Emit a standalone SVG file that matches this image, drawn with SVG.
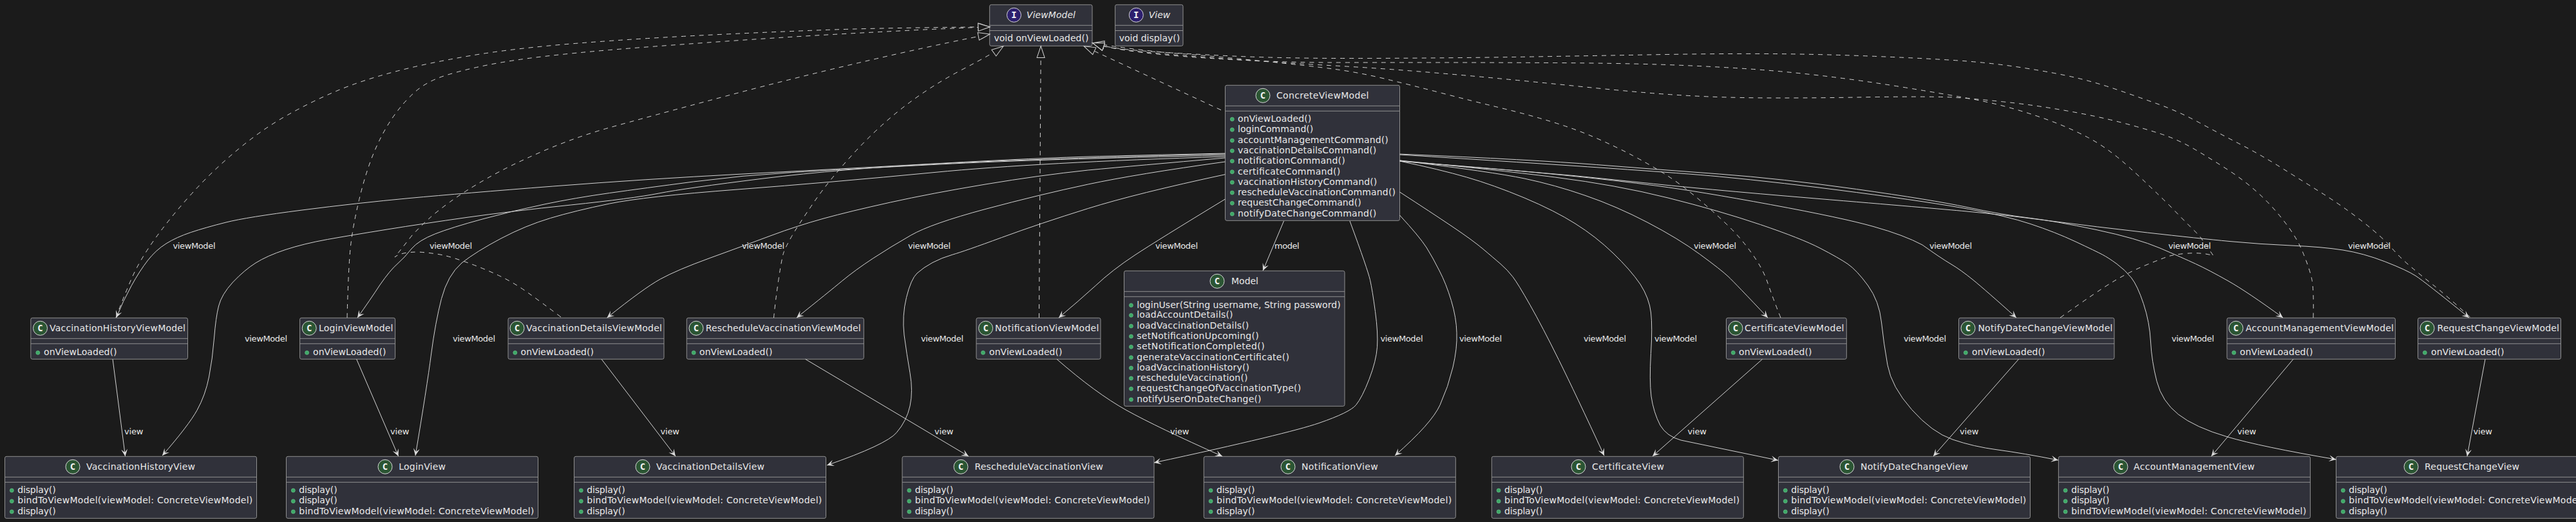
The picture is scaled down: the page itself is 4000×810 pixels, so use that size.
<svg xmlns="http://www.w3.org/2000/svg" width="4000" height="810" viewBox="0 0 4000 810">
<style>
text{font-family:"DejaVu Sans",sans-serif;fill:#e8e8e8;font-size:14px}
.b{fill:#30313a;stroke:#909090;stroke-width:1}
.s{stroke:#909090;stroke-width:1}
.cc{fill:#2b5533;stroke:#d8d8d8;stroke-width:1}
.ci{fill:#2d1f6e;stroke:#d8d8d8;stroke-width:1}
.g{font-weight:bold;text-anchor:middle;fill:#f2f2f2;font-family:"DejaVu Sans Mono","DejaVu Sans",monospace}
.d{fill:#3fa968;stroke:#6fc990;stroke-width:.6}
.i{font-style:italic}
.l{font-size:13px}
.c path{fill:none;stroke:#d4d4d4;stroke-width:1}
.c .solid{marker-end:url(#open)}
.c .dash{stroke-dasharray:7 7;marker-end:url(#tri)}
</style>
<defs>
<marker id="open" markerUnits="userSpaceOnUse" markerWidth="20" markerHeight="20" refX="0" refY="0" orient="auto" overflow="visible"><path d="M0,0 L-11,-5 L-6,0 L-11,5 Z" fill="#dcdcdc"/></marker>
<marker id="tri" markerUnits="userSpaceOnUse" markerWidth="20" markerHeight="20" refX="0" refY="0" orient="auto" overflow="visible"><path d="M0,0 L-18,-6 L-18,6 Z" fill="#1b1b1b" stroke="#d4d4d4"/></marker>
</defs>
<rect width="4000" height="810" fill="#1b1b1b"/>

<g id="nodes">
<g id="ViewModel"><rect class="b" x="1536.7" y="7.3" width="159.3" height="64" rx="2.5"/><line class="s" x1="1536.7" x2="1696" y1="39.3" y2="39.3"/><line class="s" x1="1536.7" x2="1696" y1="47.5" y2="47.5"/><circle class="ci" cx="1574.5" cy="23.3" r="11"/><text class="g" x="1574.5" y="28.3">I</text><text class="i" x="1594" y="28" textLength="76">ViewModel</text><text x="1543.4" y="63.5" textLength="147">void onViewLoaded()</text></g>
<g id="View"><rect class="b" x="1731.6" y="7.3" width="105.4" height="64" rx="2.5"/><line class="s" x1="1731.6" x2="1837" y1="39.3" y2="39.3"/><line class="s" x1="1731.6" x2="1837" y1="47.5" y2="47.5"/><circle class="ci" cx="1764.3" cy="23.3" r="11"/><text class="g" x="1764.3" y="28.3">I</text><text class="i" x="1783.7" y="28" textLength="33.6">View</text><text x="1737.8" y="63.5" textLength="94.4">void display()</text></g>

<g id="ConcreteViewModel"><rect class="b" x="1902.5" y="132.3" width="271" height="210" rx="2.5"/><line class="s" x1="1902.5" x2="2173.5" y1="164.3" y2="164.3"/><line class="s" x1="1902.5" x2="2173.5" y1="172.3" y2="172.3"/><circle class="cc" cx="1961" cy="148.3" r="11"/><text class="g" x="1961" y="153.3">C</text><text x="1982" y="153" textLength="143.5">ConcreteViewModel</text>
<circle class="d" cx="1913.3" cy="185" r="3"/><text x="1922" y="189" textLength="114.3">onViewLoaded()</text>
<circle class="d" cx="1913.3" cy="201.3" r="3"/><text x="1922" y="205.3" textLength="117.3">loginCommand()</text>
<circle class="d" cx="1913.3" cy="218" r="3"/><text x="1922" y="222" textLength="233.7">accountManagementCommand()</text>
<circle class="d" cx="1913.3" cy="234" r="3"/><text x="1922" y="238" textLength="215.3">vaccinationDetailsCommand()</text>
<circle class="d" cx="1913.3" cy="250" r="3"/><text x="1922" y="254" textLength="166.8">notificationCommand()</text>
<circle class="d" cx="1913.3" cy="266.7" r="3"/><text x="1922" y="270.7" textLength="159.2">certificateCommand()</text>
<circle class="d" cx="1913.3" cy="283" r="3"/><text x="1922" y="287" textLength="216.3">vaccinationHistoryCommand()</text>
<circle class="d" cx="1913.3" cy="299" r="3"/><text x="1922" y="303" textLength="245">rescheduleVaccinationCommand()</text>
<circle class="d" cx="1913.3" cy="315.3" r="3"/><text x="1922" y="319.3" textLength="191.8">requestChangeCommand()</text>
<circle class="d" cx="1913.3" cy="332" r="3"/><text x="1922" y="336" textLength="215.3">notifyDateChangeCommand()</text></g>

<g id="Model"><rect class="b" x="1745.5" y="420.3" width="342.5" height="210" rx="2.5"/><line class="s" x1="1745.5" x2="2088" y1="452.3" y2="452.3"/><line class="s" x1="1745.5" x2="2088" y1="460.3" y2="460.3"/><circle class="cc" cx="1890" cy="436.3" r="11"/><text class="g" x="1890" y="441.3">C</text><text x="1912" y="441" textLength="42">Model</text>
<circle class="d" cx="1756.4" cy="473.7" r="3"/><text x="1765.3" y="477.7" textLength="316.3">loginUser(String username, String password)</text>
<circle class="d" cx="1756.4" cy="489.3" r="3"/><text x="1765.3" y="493.3" textLength="149.2">loadAccountDetails()</text>
<circle class="d" cx="1756.4" cy="506" r="3"/><text x="1765.3" y="510" textLength="174">loadVaccinationDetails()</text>
<circle class="d" cx="1756.4" cy="522" r="3"/><text x="1765.3" y="526" textLength="189.4">setNotificationUpcoming()</text>
<circle class="d" cx="1756.4" cy="538.3" r="3"/><text x="1765.3" y="542.3" textLength="198.3">setNotificationCompleted()</text>
<circle class="d" cx="1756.4" cy="554.7" r="3"/><text x="1765.3" y="558.7" textLength="236.7">generateVaccinationCertificate()</text>
<circle class="d" cx="1756.4" cy="571" r="3"/><text x="1765.3" y="575" textLength="174.7">loadVaccinationHistory()</text>
<circle class="d" cx="1756.4" cy="587" r="3"/><text x="1765.3" y="591" textLength="172.2">rescheduleVaccination()</text>
<circle class="d" cx="1756.4" cy="603.3" r="3"/><text x="1765.3" y="607.3" textLength="255">requestChangeOfVaccinationType()</text>
<circle class="d" cx="1756.4" cy="620" r="3"/><text x="1765.3" y="624" textLength="193.2">notifyUserOnDateChange()</text></g>

<g id="VaccinationHistoryViewModel"><rect class="b" x="47.8" y="493.3" width="243.7" height="64" rx="2.5"/><line class="s" x1="47.8" x2="291.5" y1="525.3" y2="525.3"/><line class="s" x1="47.8" x2="291.5" y1="533.3" y2="533.3"/><circle class="cc" cx="62.5" cy="509.3" r="11"/><text class="g" x="62.5" y="514.3">C</text><text x="77" y="514" textLength="211">VaccinationHistoryViewModel</text><circle class="d" cx="58.8" cy="547.3" r="3"/><text x="68" y="551" textLength="113.5">onViewLoaded()</text></g>
<g id="LoginViewModel"><rect class="b" x="465.6" y="493.3" width="148" height="64" rx="2.5"/><line class="s" x1="465.6" x2="613.6" y1="525.3" y2="525.3"/><line class="s" x1="465.6" x2="613.6" y1="533.3" y2="533.3"/><circle class="cc" cx="480.2" cy="509.3" r="11"/><text class="g" x="480.2" y="514.3">C</text><text x="495" y="514" textLength="115.4">LoginViewModel</text><circle class="d" cx="476.6" cy="547.3" r="3"/><text x="486" y="551" textLength="113.5">onViewLoaded()</text></g>
<g id="VaccinationDetailsViewModel"><rect class="b" x="789" y="493.3" width="242" height="64" rx="2.5"/><line class="s" x1="789" x2="1031" y1="525.3" y2="525.3"/><line class="s" x1="789" x2="1031" y1="533.3" y2="533.3"/><circle class="cc" cx="803" cy="509.3" r="11"/><text class="g" x="803" y="514.3">C</text><text x="817" y="514" textLength="211">VaccinationDetailsViewModel</text><circle class="d" cx="799.8" cy="547.3" r="3"/><text x="808.5" y="551" textLength="113.5">onViewLoaded()</text></g>
<g id="RescheduleVaccinationViewModel"><rect class="b" x="1066.3" y="493.3" width="275" height="64" rx="2.5"/><line class="s" x1="1066.3" x2="1341.3" y1="525.3" y2="525.3"/><line class="s" x1="1066.3" x2="1341.3" y1="533.3" y2="533.3"/><circle class="cc" cx="1081" cy="509.3" r="11"/><text class="g" x="1081" y="514.3">C</text><text x="1095.7" y="514" textLength="241">RescheduleVaccinationViewModel</text><circle class="d" cx="1077.2" cy="547.3" r="3"/><text x="1086" y="551" textLength="113.5">onViewLoaded()</text></g>
<g id="NotificationViewModel"><rect class="b" x="1516" y="493.3" width="193" height="64" rx="2.5"/><line class="s" x1="1516" x2="1709" y1="525.3" y2="525.3"/><line class="s" x1="1516" x2="1709" y1="533.3" y2="533.3"/><circle class="cc" cx="1530.6" cy="509.3" r="11"/><text class="g" x="1530.6" y="514.3">C</text><text x="1545" y="514" textLength="161.4">NotificationViewModel</text><circle class="d" cx="1526.5" cy="547.3" r="3"/><text x="1536" y="551" textLength="113.5">onViewLoaded()</text></g>
<g id="CertificateViewModel"><rect class="b" x="2680.5" y="493.3" width="186.8" height="64" rx="2.5"/><line class="s" x1="2680.5" x2="2867.3" y1="525.3" y2="525.3"/><line class="s" x1="2680.5" x2="2867.3" y1="533.3" y2="533.3"/><circle class="cc" cx="2695" cy="509.3" r="11"/><text class="g" x="2695" y="514.3">C</text><text x="2709" y="514" textLength="154.5">CertificateViewModel</text><circle class="d" cx="2691.3" cy="547.3" r="3"/><text x="2700" y="551" textLength="113.5">onViewLoaded()</text></g>
<g id="NotifyDateChangeViewModel"><rect class="b" x="3041.5" y="493.3" width="241.5" height="64" rx="2.5"/><line class="s" x1="3041.5" x2="3283" y1="525.3" y2="525.3"/><line class="s" x1="3041.5" x2="3283" y1="533.3" y2="533.3"/><circle class="cc" cx="3056" cy="509.3" r="11"/><text class="g" x="3056" y="514.3">C</text><text x="3071.4" y="514" textLength="209">NotifyDateChangeViewModel</text><circle class="d" cx="3052.3" cy="547.3" r="3"/><text x="3062" y="551" textLength="113.5">onViewLoaded()</text></g>
<g id="AccountManagementViewModel"><rect class="b" x="3458" y="493.3" width="261.4" height="64" rx="2.5"/><line class="s" x1="3458" x2="3719.4" y1="525.3" y2="525.3"/><line class="s" x1="3458" x2="3719.4" y1="533.3" y2="533.3"/><circle class="cc" cx="3472" cy="509.3" r="11"/><text class="g" x="3472" y="514.3">C</text><text x="3487" y="514" textLength="230">AccountManagementViewModel</text><circle class="d" cx="3468.8" cy="547.3" r="3"/><text x="3478" y="551" textLength="113.5">onViewLoaded()</text></g>
<g id="RequestChangeViewModel"><rect class="b" x="3754.5" y="493.3" width="222" height="64" rx="2.5"/><line class="s" x1="3754.5" x2="3976.5" y1="525.3" y2="525.3"/><line class="s" x1="3754.5" x2="3976.5" y1="533.3" y2="533.3"/><circle class="cc" cx="3769" cy="509.3" r="11"/><text class="g" x="3769" y="514.3">C</text><text x="3784.4" y="514" textLength="189.5">RequestChangeViewModel</text><circle class="d" cx="3765.3" cy="547.3" r="3"/><text x="3775" y="551" textLength="113.5">onViewLoaded()</text></g>

<g id="VaccinationHistoryView"><rect class="b" x="7.5" y="708.3" width="391" height="96" rx="2.5"/><line class="s" x1="7.5" x2="398.5" y1="740.3" y2="740.3"/><line class="s" x1="7.5" x2="398.5" y1="748.3" y2="748.3"/><circle class="cc" cx="113" cy="724.3" r="11"/><text class="g" x="113" y="729.3">C</text><text x="134" y="729" textLength="169">VaccinationHistoryView</text>
<circle class="d" cx="18.3" cy="761" r="3"/><text x="27.3" y="765" textLength="59.3">display()</text><circle class="d" cx="18.3" cy="777.7" r="3"/><text x="27.3" y="781" textLength="365">bindToViewModel(viewModel: ConcreteViewModel)</text><circle class="d" cx="18.3" cy="794" r="3"/><text x="27.3" y="798" textLength="59.3">display()</text></g>
<g id="LoginView"><rect class="b" x="444.5" y="708.3" width="391" height="96" rx="2.5"/><line class="s" x1="444.5" x2="835.5" y1="740.3" y2="740.3"/><line class="s" x1="444.5" x2="835.5" y1="748.3" y2="748.3"/><circle class="cc" cx="598" cy="724.3" r="11"/><text class="g" x="598" y="729.3">C</text><text x="619.3" y="729" textLength="72.7">LoginView</text>
<circle class="d" cx="455.3" cy="761" r="3"/><text x="464.3" y="765" textLength="59.3">display()</text><circle class="d" cx="455.3" cy="777.7" r="3"/><text x="464.3" y="781" textLength="59.3">display()</text><circle class="d" cx="455.3" cy="794" r="3"/><text x="464.3" y="798" textLength="365">bindToViewModel(viewModel: ConcreteViewModel)</text></g>
<g id="VaccinationDetailsView"><rect class="b" x="891.5" y="708.3" width="391" height="96" rx="2.5"/><line class="s" x1="891.5" x2="1282.5" y1="740.3" y2="740.3"/><line class="s" x1="891.5" x2="1282.5" y1="748.3" y2="748.3"/><circle class="cc" cx="998" cy="724.3" r="11"/><text class="g" x="998" y="729.3">C</text><text x="1019" y="729" textLength="168">VaccinationDetailsView</text>
<circle class="d" cx="902.3" cy="761" r="3"/><text x="911.3" y="765" textLength="59.3">display()</text><circle class="d" cx="902.3" cy="777.7" r="3"/><text x="911.3" y="781" textLength="365">bindToViewModel(viewModel: ConcreteViewModel)</text><circle class="d" cx="902.3" cy="794" r="3"/><text x="911.3" y="798" textLength="59.3">display()</text></g>
<g id="RescheduleVaccinationView"><rect class="b" x="1401" y="708.3" width="391" height="96" rx="2.5"/><line class="s" x1="1401" x2="1792" y1="740.3" y2="740.3"/><line class="s" x1="1401" x2="1792" y1="748.3" y2="748.3"/><circle class="cc" cx="1492" cy="724.3" r="11"/><text class="g" x="1492" y="729.3">C</text><text x="1513.4" y="729" textLength="199.6">RescheduleVaccinationView</text>
<circle class="d" cx="1411.8" cy="761" r="3"/><text x="1420.8" y="765" textLength="59.3">display()</text><circle class="d" cx="1411.8" cy="777.7" r="3"/><text x="1420.8" y="781" textLength="365">bindToViewModel(viewModel: ConcreteViewModel)</text><circle class="d" cx="1411.8" cy="794" r="3"/><text x="1420.8" y="798" textLength="59.3">display()</text></g>
<g id="NotificationView"><rect class="b" x="1869.3" y="708.3" width="391" height="96" rx="2.5"/><line class="s" x1="1869.3" x2="2260.3" y1="740.3" y2="740.3"/><line class="s" x1="1869.3" x2="2260.3" y1="748.3" y2="748.3"/><circle class="cc" cx="2000" cy="724.3" r="11"/><text class="g" x="2000" y="729.3">C</text><text x="2021" y="729" textLength="118.7">NotificationView</text>
<circle class="d" cx="1880.1" cy="761" r="3"/><text x="1889.1" y="765" textLength="59.3">display()</text><circle class="d" cx="1880.1" cy="777.7" r="3"/><text x="1889.1" y="781" textLength="365">bindToViewModel(viewModel: ConcreteViewModel)</text><circle class="d" cx="1880.1" cy="794" r="3"/><text x="1889.1" y="798" textLength="59.3">display()</text></g>
<g id="CertificateView"><rect class="b" x="2316.3" y="708.3" width="391" height="96" rx="2.5"/><line class="s" x1="2316.3" x2="2707.3" y1="740.3" y2="740.3"/><line class="s" x1="2316.3" x2="2707.3" y1="748.3" y2="748.3"/><circle class="cc" cx="2451" cy="724.3" r="11"/><text class="g" x="2451" y="729.3">C</text><text x="2472" y="729" textLength="112">CertificateView</text>
<circle class="d" cx="2327.1" cy="761" r="3"/><text x="2336.1" y="765" textLength="59.3">display()</text><circle class="d" cx="2327.1" cy="777.7" r="3"/><text x="2336.1" y="781" textLength="365">bindToViewModel(viewModel: ConcreteViewModel)</text><circle class="d" cx="2327.1" cy="794" r="3"/><text x="2336.1" y="798" textLength="59.3">display()</text></g>
<g id="NotifyDateChangeView"><rect class="b" x="2761.5" y="708.3" width="391" height="96" rx="2.5"/><line class="s" x1="2761.5" x2="3152.5" y1="740.3" y2="740.3"/><line class="s" x1="2761.5" x2="3152.5" y1="748.3" y2="748.3"/><circle class="cc" cx="2868" cy="724.3" r="11"/><text class="g" x="2868" y="729.3">C</text><text x="2889" y="729" textLength="167">NotifyDateChangeView</text>
<circle class="d" cx="2772.3" cy="761" r="3"/><text x="2781.3" y="765" textLength="59.3">display()</text><circle class="d" cx="2772.3" cy="777.7" r="3"/><text x="2781.3" y="781" textLength="365">bindToViewModel(viewModel: ConcreteViewModel)</text><circle class="d" cx="2772.3" cy="794" r="3"/><text x="2781.3" y="798" textLength="59.3">display()</text></g>
<g id="AccountManagementView"><rect class="b" x="3196.4" y="708.3" width="391" height="96" rx="2.5"/><line class="s" x1="3196.4" x2="3587.4" y1="740.3" y2="740.3"/><line class="s" x1="3196.4" x2="3587.4" y1="748.3" y2="748.3"/><circle class="cc" cx="3293" cy="724.3" r="11"/><text class="g" x="3293" y="729.3">C</text><text x="3313" y="729" textLength="188">AccountManagementView</text>
<circle class="d" cx="3207.2" cy="761" r="3"/><text x="3216.2" y="765" textLength="59.3">display()</text><circle class="d" cx="3207.2" cy="777.7" r="3"/><text x="3216.2" y="781" textLength="59.3">display()</text><circle class="d" cx="3207.2" cy="794" r="3"/><text x="3216.2" y="798" textLength="365">bindToViewModel(viewModel: ConcreteViewModel)</text></g>
<g id="RequestChangeView"><rect class="b" x="3627.5" y="708.3" width="391" height="96" rx="2.5"/><line class="s" x1="3627.5" x2="4018.5" y1="740.3" y2="740.3"/><line class="s" x1="3627.5" x2="4018.5" y1="748.3" y2="748.3"/><circle class="cc" cx="3744" cy="724.3" r="11"/><text class="g" x="3744" y="729.3">C</text><text x="3765" y="729" textLength="147">RequestChangeView</text>
<circle class="d" cx="3638.3" cy="761" r="3"/><text x="3647.3" y="765" textLength="59.3">display()</text><circle class="d" cx="3638.3" cy="777.7" r="3"/><text x="3647.3" y="781" textLength="365">bindToViewModel(viewModel: ConcreteViewModel)</text><circle class="d" cx="3638.3" cy="794" r="3"/><text x="3647.3" y="798" textLength="59.3">display()</text></g>
</g>

<g id="connectors" class="c">
<path class="dash" d="M180,493 Q191,463 204,433 Q217,403 242.5,368 Q268,333 300,298 Q332,263 370,231.5 Q408,200 446.5,178.5 Q485,157 523,141 Q561,125 612,111.5 Q663,98 730,86.5 Q797,75 898.5,67 Q1000,59 1127.5,53 Q1255,47 1327,45 Q1400,43 1537,41.7"/>
<path class="dash" d="M539,493 Q541,413 544.5,381.5 Q548,350 558,308.5 Q568,267 580.5,237 Q593,207 609,183.5 Q625,160 644,143 Q663,126 692,117 Q721,108 759,100.5 Q797,93 845,87.5 Q893,82 946.5,77.5 Q1000,73 1127.5,64 Q1255,55 1396,48 Q1450,45 1537,41.7"/>
<path class="dash" d="M871,492 Q842,470 819.5,454 Q797,438 774.5,427.5 Q752,417 728.5,408.5 Q705,400 690.5,396.5 Q676,393 650,391 Q622,391 613,399 Q626,383 640,365 Q657,347 667,338.5 Q676,330 698.5,313.5 Q721,297 756,277 Q791,257 842,235 Q893,213 946.5,198 Q1000,183 1127.5,149 Q1255,115 1396,83 Q1480,64 1537,53"/>
<path class="dash" d="M1201.5,493 Q1204,467 1209,433.5 Q1214,400 1217,391.5 Q1220,383 1229.5,366.5 Q1239,350 1263,315 Q1287,280 1325,238.5 Q1363,197 1404.5,165 Q1446,133 1494,108 Q1542,83 1558,71.7"/>
<path class="dash" d="M1613.5,493 L1616.3,71.5"/>
<path class="dash" d="M1896,170.7 L1683,71.7"/>
<path class="dash" d="M2765,493 Q2752,460 2744.5,438 Q2737,416 2719,391.5 Q2701.5,367 2679,346 Q2657,325 2631.5,304 Q2606,283 2583.5,269 Q2561,255 2535.5,241.5 Q2510,228 2478,214 Q2446,200 2408,188.5 Q2370,177 2328.5,167 Q2287,157 2239,144.5 Q2191,132 2149.5,122 Q2108,112 2070,107 Q2032,102 1962.5,95 Q1893,88 1829,83 Q1765,78 1696.5,66.7"/>
<path class="dash" d="M3199,493 Q3255,453 3280.5,437.5 Q3306,422 3333,411 Q3360,400 3368,397.5 Q3376,395 3392,393.5 Q3420,391 3437,397 Q3427,382 3414.5,365 Q3392,343 3370,320 Q3319,270 3293.5,248.5 Q3268,227 3242.5,213.5 Q3217,200 3188,189 Q3159,178 3127.5,169 Q3096,160 3064,154 Q3032,148 2962.5,136.5 Q2893,125 2829,117.5 Q2765,110 2701.5,106 Q2638,102 2574,100 Q2510,98 2414.5,97.5 Q2319,97 2223.5,97 Q2128,97 2064,97 Q2000,97 1914.5,92.5 Q1829,88 1774.5,81.5 Q1720,75 1696.5,66.7"/>
<path class="dash" d="M3592,493 Q3593,450 3590,434.5 Q3587,419 3577,394.5 Q3567.6,370 3548,345 Q3529,320 3507,300 Q3485,280 3459.5,263.5 Q3434,247 3408.5,232 Q3383,217 3357.5,208.5 Q3332,200 3293.5,190 Q3255,180 3207,171.5 Q3159,163 3111.5,158 Q3064,153 3032,151 Q3000,149.5 2914.5,150.5 Q2829,152 2765,152 Q2701.5,152 2654,150 Q2606,148 2558,144 Q2510,140 2446.5,133.5 Q2383,127 2319,121 Q2255,115 2191.5,110 Q2128,105 2064,101.5 Q2000,98 1914.5,92 Q1829,86 1774.5,80.5 Q1720,75 1696.5,66.7"/>
<path class="dash" d="M3835.5,492 Q3797,457 3778,442 Q3759,427 3743,413.5 Q3727,400 3714,385 Q3701.5,370 3670,345 Q3638,320 3606,300 Q3574,280 3542,260 Q3510,240 3478,223.5 Q3446,207 3414.5,190 Q3383,173 3351,161.5 Q3319,150 3287,139 Q3255,128 3223,120.5 Q3191,113 3143.5,105.5 Q3096,98 3048,94.5 Q3000,91 2914.5,87.5 Q2829,84 2749.5,83.5 Q2670,83 2558,85 Q2446,87 2350.5,88.5 Q2255,90 2127.5,90.5 Q2000,91 1914.5,87 Q1829,83 1775,79 Q1720.7,75 1696.5,66.7"/>

<path class="solid" d="M1902.4,238 Q1803.6,240 1707.8,242.5 Q1612,245 1459,253.5 Q1306,262 1153,270 Q1000,278 858.8,289 Q717.5,300 636,307.5 Q555,315 469,326 Q383,337 351,345 Q319,353 296.5,360.5 Q274,368 258,378 Q242,388 229.5,404 Q217,420 204,443.5 Q191,467 180.5,493"/>
<path class="solid" d="M1902.4,239 Q1612,246 1459,254 Q1306,262 1185,277 Q1064,292 1023,300 Q982,308 886.5,318 Q791,328 724,337.5 Q657,347 601,356 Q545,365 508.5,371.5 Q472,378 443,387.5 Q414.5,397 397,408 Q379.5,419 361.5,438 Q344,457 339.5,475 Q335,493 332.5,525 Q330,557 324.5,585 Q319,613 306,636.5 Q293,660 252,707"/>
<path class="solid" d="M1902.4,241 Q1612,247 1459,255 Q1306,263 1229.5,267.5 Q1153,272 1076.5,282 Q1000,292 946.5,299.5 Q893,307 845,317 Q797,327 749,340 Q701,353 675.5,363 Q650,373 639,386 Q628,400 617,409.5 Q606,419 590,442 Q575,465 555,493"/>
<path class="solid" d="M1902.4,243 Q1612,252 1451,267.5 Q1290,283 1145,294 Q1000,305 946.5,316 Q893,327 854.5,338.5 Q816,350 778,370 Q740,390 717,408 Q695,427 685.5,463.5 Q676,500 669.5,550 Q663,600 645,707"/>
<path class="solid" d="M1902.4,245 Q1765,257 1689.5,264 Q1614,272 1530,286 Q1446,300 1382.5,314 Q1319,328 1279,339 Q1239,350 1196,366 Q1153,382 1102,400.5 Q1051,419 1025.5,433 Q1000,447 942.6,493"/>
<path class="solid" d="M1902.4,251 Q1765,270 1689.5,286 Q1614,302 1530,324.5 Q1446,347 1414.5,365 Q1383,383 1355.5,401 Q1328,419 1307.5,436 Q1287,453 1237,493"/>
<path class="solid" d="M1902.4,270.7 Q1765,300 1689.5,323.5 Q1614,347 1555.5,368.5 Q1497,390 1479.5,395 Q1462,400 1448,407.5 Q1434,415 1424,424 Q1414.5,433 1407.5,461.5 Q1400.5,490 1404,520 Q1408,550 1413,578.5 Q1418,607 1413,630 Q1408,653 1392,671.5 Q1376,690 1284,722"/>
<path class="solid" d="M1902.4,309 Q1797,373 1762,396 Q1727,419 1701.5,443 Q1675,467 1644,493"/>
<path class="solid" d="M1993.5,343 L1961,420"/>
<path class="solid" d="M2096,343 Q2124,419 2127.5,434.5 Q2131,450 2135.5,483.5 Q2140,517 2138.5,538.5 Q2137,560 2126,588.5 Q2115,617 2105.5,628.5 Q2096,640 2048,656.5 Q2000,673 1792,718"/>
<path class="solid" d="M2173.5,334 Q2204,367 2215,384 Q2225,400 2235,420 Q2245.5,440 2253.5,466.5 Q2261.5,493 2262,516.5 Q2263,540 2256,570 Q2249,600 2236,628.5 Q2223,657 2166,707"/>
<path class="solid" d="M2173.5,298 Q2223,330 2255,351.5 Q2287,373 2303,386.5 Q2319,400 2330,409.5 Q2341,419 2349,429.5 Q2357,440 2376,473.5 Q2395,507 2420.5,558.5 Q2446,610 2491,707"/>
<path class="solid" d="M2173.5,250 Q2236,263 2277.5,275 Q2319,287 2367,307 Q2414.5,327 2446,347 Q2478,367 2505,393 Q2532,419 2547,441 Q2561,463 2563.5,485 Q2566,507 2563.5,548.5 Q2561,590 2564,615 Q2567.6,640 2578,660 Q2588,677 2610,683 L2761,714.3"/>
<path class="solid" d="M2173.5,249 Q2319,267 2367,277 Q2414.5,287 2462,303.5 Q2510,320 2558,345 Q2606,370 2639.5,394.5 Q2673,419 2684,429.5 Q2695,440 2745,493"/>
<path class="solid" d="M2173.5,249 Q2319,263 2414.5,275 Q2510,287 2590,307 Q2670,327 2733.5,348.5 Q2797,370 2826,385 Q2855,400 2869,409.5 Q2883,419 2900.5,443 Q2918,467 2921.5,500 Q2925,533 2931,566.5 Q2937,600 2968.5,635.5 Q3000,671 3032,682 Q3064,693 3102,698 Q3140,703 3196,714"/>
<path class="solid" d="M2173.5,250 Q2340,263 2425,271.5 Q2510,280 2574,288.5 Q2638,297 2749.5,317.5 Q2861,338 2909,351.5 Q2957,365 2985,380 Q3013,400 3029,409.5 Q3045,419 3064,434.5 Q3083,450 3131,493"/>
<path class="solid" d="M2173.5,239 Q2383,248 2478.5,255.5 Q2574,263 2669.5,270 Q2765,277 2882.5,293.5 Q3000,310 3054,321.5 Q3108,333 3149.5,338 Q3191,343 3255,356.5 Q3319,370 3354,385 Q3389,400 3409.5,409.5 Q3430,419 3460,436 Q3490,453 3545,493"/>
<path class="solid" d="M2173.5,240 Q2574,265 2669.5,274 Q2765,283 2882.5,298.5 Q3000,314 3057.5,324.5 Q3115,335 3153,347.5 Q3191,360 3223,375 Q3255,390 3264.5,395 Q3274,400 3287,409.5 Q3300,419 3309.5,431 Q3319,443 3328.5,471.5 Q3338,500 3339.5,530 Q3341,560 3349,591.5 Q3357,623 3382.5,643 Q3408,663 3459,678 Q3510,693 3627.5,713"/>
<path class="solid" d="M2173.5,250 Q2255,257 2350.5,264.5 Q2446,272 2542,282.5 Q2638,293 2819,308 Q3000,323 3054,328 Q3108,333 3181.5,342.5 Q3255,352 3334.5,361 Q3414.5,370 3462,374.5 Q3510,379 3558,381 Q3606,383 3638,388 Q3670,393 3703.5,406 Q3737,419 3751,428 Q3765,437 3834,493"/>

<path class="solid" d="M175,557.3 L194.5,708"/>
<path class="solid" d="M553.6,557.3 L618.6,708"/>
<path class="solid" d="M934,557.3 L1049,708"/>
<path class="solid" d="M1250.6,557.3 L1504,708"/>
<path class="solid" d="M1641,557.3 Q1701.5,610 1749,636.5 Q1797,663 1898,708"/>
<path class="solid" d="M2736.6,557.3 L2566,708"/>
<path class="solid" d="M3134.6,557.3 L3002,708"/>
<path class="solid" d="M3561,557.3 L3433.7,708"/>
<path class="solid" d="M3859,557.3 L3831,708"/>

<g id="labels">
<text class="l" x="268.5" y="386" textLength="66">viewModel</text>
<text class="l" x="667" y="386" textLength="66">viewModel</text>
<text class="l" x="1152" y="386" textLength="66">viewModel</text>
<text class="l" x="1410" y="386" textLength="66">viewModel</text>
<text class="l" x="1794" y="386" textLength="66">viewModel</text>
<text class="l" x="1979" y="386" textLength="38.5">model</text>
<text class="l" x="2630" y="386" textLength="66">viewModel</text>
<text class="l" x="2996" y="386" textLength="66">viewModel</text>
<text class="l" x="3367" y="386" textLength="66">viewModel</text>
<text class="l" x="3646" y="386" textLength="66">viewModel</text>
<text class="l" x="380" y="530" textLength="66">viewModel</text>
<text class="l" x="703" y="530" textLength="66">viewModel</text>
<text class="l" x="1430" y="530" textLength="66">viewModel</text>
<text class="l" x="2143.5" y="530" textLength="66">viewModel</text>
<text class="l" x="2266" y="530" textLength="66">viewModel</text>
<text class="l" x="2459" y="530" textLength="66">viewModel</text>
<text class="l" x="2569" y="530" textLength="66">viewModel</text>
<text class="l" x="2956" y="530" textLength="66">viewModel</text>
<text class="l" x="3372" y="530" textLength="66">viewModel</text>
<text class="l" x="193" y="674.3" textLength="29.3">view</text>
<text class="l" x="606" y="674.3" textLength="29.3">view</text>
<text class="l" x="1025.5" y="674.3" textLength="29.3">view</text>
<text class="l" x="1451" y="674.3" textLength="29.3">view</text>
<text class="l" x="1817" y="674.3" textLength="29.3">view</text>
<text class="l" x="2620.5" y="674.3" textLength="29.3">view</text>
<text class="l" x="3043" y="674.3" textLength="29.3">view</text>
<text class="l" x="3474" y="674.3" textLength="29.3">view</text>
<text class="l" x="3840.6" y="674.3" textLength="29.3">view</text>
</g>
</g>
</svg>
